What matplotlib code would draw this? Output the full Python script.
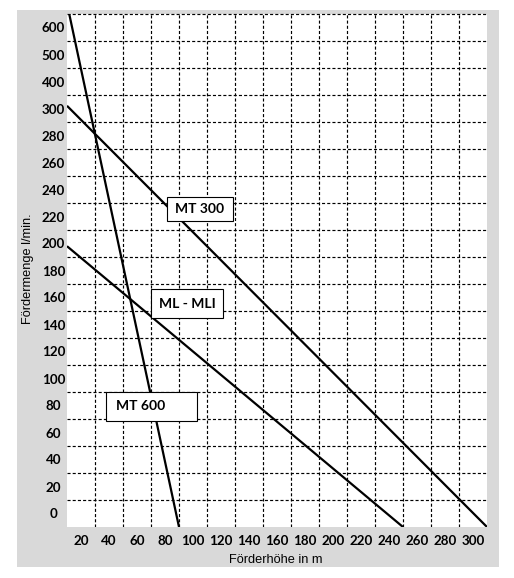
import matplotlib
matplotlib.use("Agg")
import matplotlib.pyplot as plt
from matplotlib.patches import Rectangle

# ---- data (x: Förderhöhe in m, y: axis position; labels 400-600 compress the top) ----
x_ticks = [20, 40, 60, 80, 100, 120, 140, 160, 180, 200, 220, 240, 260, 280, 300]
y_tick_pos = [0, 20, 40, 60, 80, 100, 120, 140, 160, 180, 200, 220, 240, 260, 280, 300, 320, 340, 360]
y_tick_labels = ["0", "20", "40", "60", "80", "100", "120", "140", "160", "180", "200",
                 "220", "240", "260", "280", "300", "400", "500", "600"]

mt300_x = [10, 310]
mt300_y = [302, -10]
ml_x = [10, 250]
ml_y = [198, -10]
mt600_x = [11.6, 90]
mt600_y = [370, -10]

W, H = 514, 578
fig = plt.figure(figsize=(W / 100, H / 100), dpi=100)
fig.patch.set_facecolor("white")

# gray frame
frame = Rectangle((17 / W, 1 - 567 / H), (499 - 17) / W, (567 - 10) / H,
                  transform=fig.transFigure, facecolor="#d9d9d9",
                  edgecolor="none", zorder=-5)
fig.add_artist(frame)

ax = fig.add_axes([67 / W, 1 - 527 / H, 420 / W, 513 / H])
ax.set_zorder(2)
ax.set_facecolor("white")
ax.set_xlim(10, 310)
ax.set_ylim(-10, 370)
for s in ax.spines.values():
    s.set_visible(False)

# grid at band boundaries
dash = (0, (2.6, 1.8))
for gx in range(30, 300, 20):
    ax.axvline(gx, color="black", lw=0.85, linestyle=dash, zorder=1)
for gy in range(10, 371, 20):
    ax.axhline(gy, color="black", lw=0.85, linestyle=dash, zorder=1, clip_on=False)

ax.set_xticks(x_ticks)
ax.set_xticklabels([str(v) for v in x_ticks])
ax.set_yticks(y_tick_pos)
ax.set_yticklabels(y_tick_labels)
ax.tick_params(axis="both", length=0)
ax.tick_params(axis="y", pad=9.7)
ax.tick_params(axis="x", pad=5.5)
for lab in ax.get_yticklabels():
    lab.set_horizontalalignment("center")
for lab in ax.get_xticklabels() + ax.get_yticklabels():
    lab.set_fontfamily("Lato")
    lab.set_fontweight("bold")
    lab.set_fontsize(9.6)
    lab.set_color("black")

ax.plot(mt300_x, mt300_y, color="black", lw=1.6, zorder=3, solid_capstyle="butt")
ax.plot(ml_x, ml_y, color="black", lw=1.6, zorder=3, solid_capstyle="butt")
ax.plot(mt600_x, mt600_y, color="black", lw=1.6, zorder=3, solid_capstyle="butt")

def box(px0, py0, px1, py1, text, align="center"):
    x0 = (px0 - 67) / 420
    x1 = (px1 - 67) / 420
    y0 = 1 - (py1 - 14) / 513
    y1 = 1 - (py0 - 14) / 513
    ax.add_patch(Rectangle((x0, y0), x1 - x0, y1 - y0, transform=ax.transAxes,
                           facecolor="white", edgecolor="black", lw=0.8, zorder=4))
    if align == "center":
        tx, ha = (x0 + x1) / 2, "center"
    else:
        tx, ha = x0 + 10 / 420, "left"
    ax.text(tx, (y0 + y1) / 2, text, transform=ax.transAxes, ha=ha, va="center",
            fontfamily="Lato", fontweight="bold", fontsize=10, zorder=5)

box(167, 197, 233, 221, "MT 300")
box(151, 289, 223, 318, "ML - MLI")
box(106, 392, 197, 421, "MT 600", align="left")

fig.text(275.5 / W, 1 - 560 / H, "Förderhöhe in m", ha="center", va="center",
         fontfamily="Liberation Sans", fontsize=9.2)
fig.text(28.5 / W, 1 - 269 / H, "Fördermenge l/min.", ha="center", va="center",
         rotation=90, fontfamily="Liberation Sans", fontsize=9.2)

fig.savefig("out.png", dpi=100)
